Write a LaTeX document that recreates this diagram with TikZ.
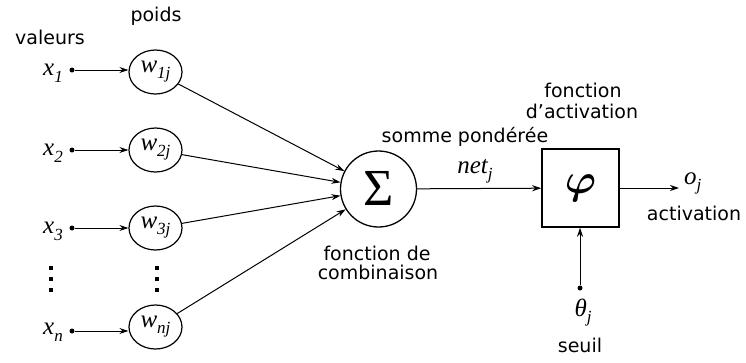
\documentclass[tikz,border=0pt]{standalone}
\usepackage{fontspec}
\setmainfont{DejaVu Sans}
\newfontfamily\serifit{Liberation Serif}
\usetikzlibrary{arrows.meta,shapes.geometric}
\newcommand\mi[2]{{\serifit\itshape\fontsize{25}{25}\selectfont #1\raisebox{-7pt}{\fontsize{17}{17}\selectfont #2}}}
\newcommand\wi[2]{{\serifit\itshape\fontsize{25}{25}\selectfont #1\raisebox{-6pt}{\fontsize{17}{17}\selectfont #2}}}
\begin{document}
\begin{tikzpicture}[x=1pt,y=-1pt,
  lbl/.style={font=\fontsize{19}{21}\selectfont, inner sep=0pt, align=center},
  wnode/.style={ellipse, draw, line width=1.2pt, minimum width=53pt, minimum height=44pt, inner sep=0pt},
  arr/.style={-{Stealth[length=9pt,width=6pt]}, line width=1pt},
  dotn/.style={circle, fill, inner sep=0pt, minimum size=5pt},
  vdot/.style={rectangle, fill, inner sep=0pt, minimum size=3.5pt}]
\useasboundingbox (0,0) rectangle (746,362);

% headings
\node[lbl] (valeurs) at (50,37) {valeurs};
\node[lbl] (poids) at (156,16) {poids};

% inputs
\node[anchor=base east, inner sep=0pt] (x1) at (63,75) {\mi{x}{1}};
\node[anchor=base east, inner sep=0pt] (x2) at (63,155) {\mi{x}{2}};
\node[anchor=base east, inner sep=0pt] (x3) at (63,233) {\mi{x}{3}};
\node[anchor=base east, inner sep=0pt] (xn) at (63,334) {\mi{x}{n}};

\node[dotn] (d1) at (72,70) {};
\node[dotn] (d2) at (72,150) {};
\node[dotn] (d3) at (72,228) {};
\node[dotn] (dn) at (72,331) {};

% weights
\node[wnode] (w1) at (155.5,72) {\wi{w}{1j}};
\node[wnode] (w2) at (155.5,150) {\wi{w}{2j}};
\node[wnode] (w3) at (155.5,228) {\wi{w}{3j}};
\node[wnode] (wn) at (155.5,327) {\wi{w}{nj}};

% vertical dots
\foreach \y [count=\i] in {268,279,290} {
  \node[vdot] (va\i) at (51,\y) {};
  \node[vdot] (vb\i) at (157,\y) {};
}

\draw[arr] (d1) -- (w1.west |- d1);
\draw[arr] (d2) -- (w2.west |- d2);
\draw[arr] (d3) -- (w3.west |- d3);
\draw[arr] (dn) -- (wn.west |- dn);

% sum
\node[circle, draw, line width=1.3pt, minimum size=76pt, inner sep=0pt] (sum) at (378.5,189)
  {\serifit\fontsize{52}{52}\selectfont\raisebox{2pt}{Σ}};
\draw[arr] (w1) -- (sum);
\draw[arr] (w2) -- (sum);
\draw[arr] (w3) -- (sum);
\draw[arr] (wn) -- (sum);

\node[lbl] (somme) at (465,137) {somme pondérée};
\node[anchor=base, inner sep=0pt] (net) at (475,173) {\wi{net}{j}};
\node[lbl] (fc1) at (377,253) {fonction de};
\node[lbl] (fc2) at (378,272) {combinaison};

% activation
\node[rectangle, draw, line width=1.5pt, minimum width=77pt, minimum height=78pt, inner sep=0pt] (phi) at (580.5,188)
  {\scalebox{4.2}{\boldmath$\varphi$}};
\draw[arr] (sum) -- (phi);
\node[lbl] (fa1) at (583,90) {fonction};
\node[lbl] (fa2) at (582,111) {d’activation};

\coordinate (oend) at (679,188);
\draw[arr] (phi.east) -- (oend);
\node[anchor=west, inner sep=0pt] (oj) at (684,183) {\wi{o}{j}};
\node[lbl] (act) at (694,213) {activation};

\node[dotn] (td) at (580,288) {};
\draw[arr] (td) -- (phi.south -| td);
\node[inner sep=0pt] (theta) at (583,313) {\wi{θ}{j}};
\node[lbl] (seuil) at (580,345) {seuil};
\end{tikzpicture}
\end{document}
